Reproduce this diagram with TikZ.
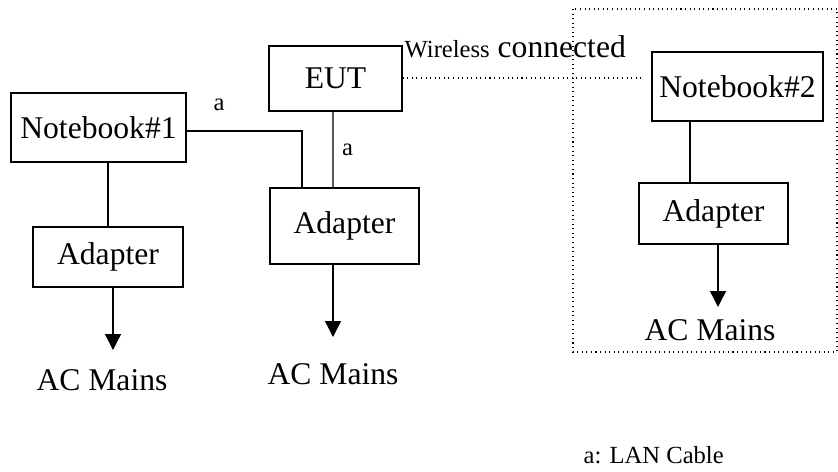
\documentclass[tikz,border=0pt]{standalone}
\usepackage{fontspec}
\setmainfont{Liberation Serif}
\usetikzlibrary{arrows.meta}

\begin{document}
\begin{tikzpicture}[x=0.02cm,y=-0.02cm,line width=0.8pt]
\newcommand{\bigtext}{\fontsize{18}{21}\selectfont}
\newcommand{\smalltext}{\fontsize{14}{16}\selectfont}
\useasboundingbox (0,0) rectangle (838,471);
\begin{scope}[inner sep=0pt]
\tikzstyle{every node}=[font=\bigtext]
\tikzstyle{box}=[draw,rectangle]
\node[box,minimum width=3.5cm,minimum height=1.38cm] (NB_1) at (98.5,127.5) {Notebook\#1};
\node[box,minimum width=2.66cm,minimum height=1.3cm] (EUT) at (335.5,78.5) {EUT};
\node[box,minimum width=3.42cm,minimum height=1.38cm] (NB_2) at (737.5,86.5) {Notebook\#2};
\node[box,minimum width=3cm,minimum height=1.2cm] (AD_1) at (108,257) {Adapter};
\node[box,minimum width=2.98cm,minimum height=1.52cm] (AD_0) at (344.5,226) {Adapter};
\node[box,minimum width=2.98cm,minimum height=1.22cm] (AD_2) at (713.5,213.5) {Adapter};
\node (AC_1) at (102,380) {AC Mains};
\node (AC_0) at (333,374) {AC Mains};
\node (AC_2) at (710,330) {AC Mains};
\coordinate (T_1) at (113,350);
\coordinate (T_0) at (333,337);
\coordinate (T_2) at (718,307);
\draw ([yshift=-0.07cm]NB_1.east) -| ([xshift=-0.85cm]AD_0.north);
\draw ([xshift=-0.05cm]EUT.south) -- node[right=0.17cm,font=\smalltext] {a} ([xshift=-0.23cm]AD_0.north);
\node[font=\smalltext] (LBL) at (219,105) {a};
\draw (AD_1.north |- NB_1.south) -- (AD_1.north);
\draw ([xshift=-0.47cm]AD_2.north |- NB_2.south) -- ([xshift=-0.47cm]AD_2.north);
\draw[-{Triangle[width=0.32cm,length=0.32cm]}] (AD_1.south -| T_1) -- (T_1);
\draw[-{Triangle[width=0.32cm,length=0.32cm]}] (AD_0.south -| T_0) -- (T_0);
\draw[-{Triangle[width=0.32cm,length=0.32cm]}] (AD_2.south -| T_2) -- (T_2);
\draw[dotted,line width=0.6pt,shorten >=0.14cm] ([yshift=0.01cm]EUT.east) -- ([yshift=0.01cm]EUT.east -| NB_2.west);
\draw[dotted,line width=0.6pt] (573,9) rectangle (837,352);
\node[anchor=base west] (WL) at (404,57) {{\smalltext Wireless} connected};
\node[anchor=base west,font=\smalltext] (KEY) at (583,463) {a: LAN Cable};
\end{scope}
\end{tikzpicture}
\end{document}
